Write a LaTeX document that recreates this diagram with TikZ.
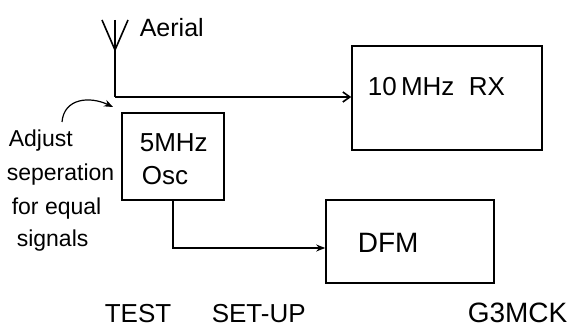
\documentclass[tikz,border=0pt]{standalone}
\usepackage{fontspec}
\setmainfont{Liberation Sans}
\usetikzlibrary{arrows.meta}
\begin{document}
\begin{tikzpicture}[x=1pt,y=-1pt,
  line width=1.6pt,
  box/.style={draw,line width=1.6pt,inner sep=0pt},
  lbl/.style={inner sep=0pt,anchor=west,font=\fontsize{26}{28}\selectfont},
  note/.style={inner sep=0pt,anchor=base west,font=\fontsize{23}{25}\selectfont},
  foot/.style={inner sep=0pt,anchor=west,font=\fontsize{26}{28}\selectfont},
  barb/.style={-{Straight Barb[length=7pt,width=10pt,line width=1.6pt]}},
  solid arrow/.style={-{Stealth[length=9pt,width=7pt]}}]
\useasboundingbox (0,0) rectangle (580,328);
% boxes
\node[box,minimum width=190pt,minimum height=104pt] (rx) at (447,98) {};
\node[box,minimum width=102pt,minimum height=87pt] (osc) at (173,156.5) {};
\node[box,minimum width=168pt,minimum height=83pt] (dfm) at (410,241.5) {};
% box labels
\node[lbl] (rxt) at (367,87) {10\,MHz\ \ RX};
\node[lbl] (osct1) at (139,143) {5MHz};
\node[lbl] (osct2) at (141,176) {Osc};
\node[lbl,font=\fontsize{28}{30}\selectfont] (dfmt) at (357,243) {DFM};
% aerial
\coordinate (mtop) at (115,20);
\coordinate (mbot) at (115,97);
\coordinate (la) at (102,20);
\coordinate (ra) at (128,20);
\coordinate (vtip) at (115,50);
\draw (mtop) -- (mbot);
\draw (la) -- (vtip) -- (ra);
\node[lbl,font=\fontsize{25}{27}\selectfont] (aer) at (139,28) {Aerial};
\draw[barb] (mbot) -- (mbot -| rx.west);
% osc to dfm
\coordinate (c2) at (173,248);
\draw[solid arrow] (osc.south) -- (c2) -- (c2 -| dfm.west);
% note
\node[note] (n1) at (8,147) {Adjust};
\node[note] (n2) at (6,181) {seperation};
\node[note] (n3) at (11,215) {for equal};
\node[note] (n4) at (16,247) {signals};
\coordinate (cs) at (62,122);
\coordinate (ce) at (113,107);
\draw[solid arrow,line width=1.2pt] (cs) .. controls (64,98) and (90,96) .. (ce);
% footer
\node[foot] (t1) at (104,314) {TEST};
\node[foot] (t2) at (211,314) {SET-UP};
\node[foot,font=\fontsize{28}{30}\selectfont] (t3) at (467,313) {G3MCK};
\end{tikzpicture}
\end{document}
